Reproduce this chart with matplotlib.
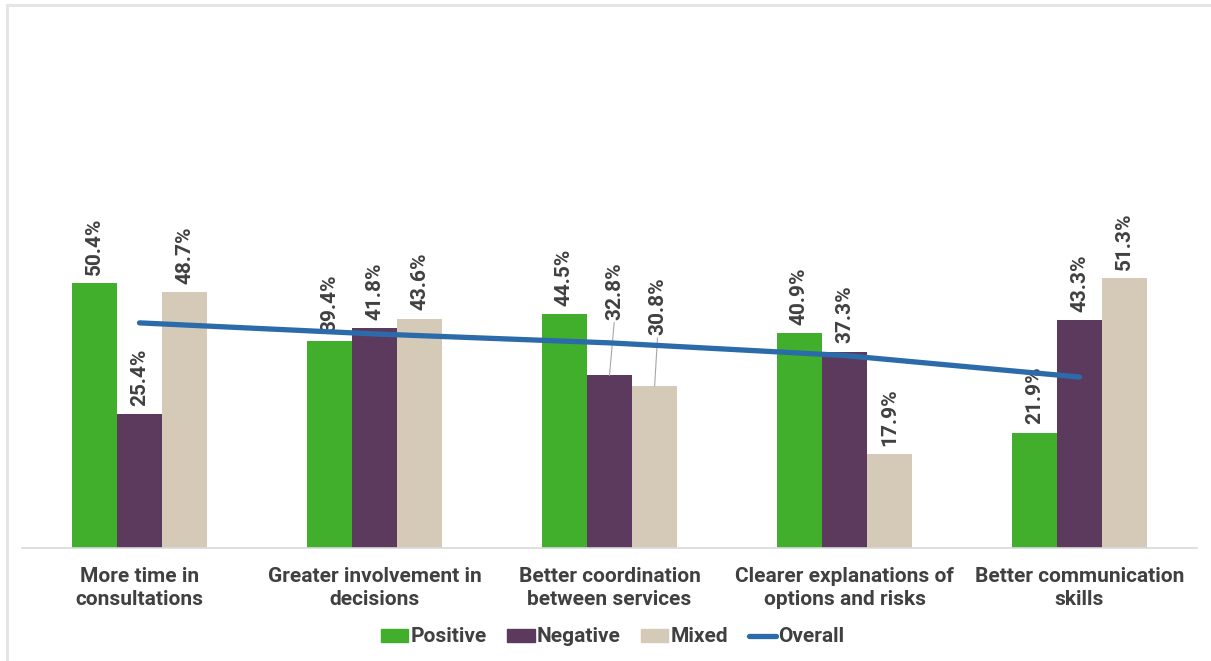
import matplotlib.pyplot as plt
import numpy as np
from matplotlib.patches import Patch, Rectangle
from matplotlib.lines import Line2D

plt.rcParams['font.family'] = ['Roboto', 'DejaVu Sans']

categories = ['More time in\nconsultations', 'Greater involvement in\ndecisions',
              'Better coordination\nbetween services', 'Clearer explanations of\noptions and risks',
              'Better communication\nskills']
positive = [50.4, 39.4, 44.5, 40.9, 21.9]
negative = [25.4, 41.8, 32.8, 37.3, 43.3]
mixed = [48.7, 43.6, 30.8, 17.9, 51.3]
overall = [42.8, 40.7, 39.0, 36.6, 32.5]

c_pos = '#42AF2C'
c_neg = '#5C3A5D'
c_mix = '#D5CAB8'
c_line = '#2C6BAA'
c_text = '#404040'

W, H = 1211, 661
fig = plt.figure(figsize=(W / 100, H / 100), dpi=100)
ax = fig.add_axes([22 / W, (H - 548) / H, (1197 - 22) / W, (548 - 22) / H])

# outer frame
fig.patches.append(Rectangle((7 / W, -0.01), 1.1, 1 - 5 / H + 0.01, transform=fig.transFigure,
                             fill=False, edgecolor='#E4E4E4', linewidth=2))

x = np.arange(len(categories))
bw = 0.192
series = [(positive, c_pos, -bw), (negative, c_neg, 0), (mixed, c_mix, bw)]
for vals, col, off in series:
    ax.bar(x + off, vals, width=bw, color=col, zorder=2)

# overall line sits on top of bars and labels
ax.plot(x, overall, color=c_line, linewidth=3.8, solid_capstyle='round', zorder=5)

# labels that would collide with the overall line get a leader line
label_kw = dict(rotation=90, ha='center', va='bottom', fontsize=15, color=c_text,
                fontweight='semibold', zorder=3)
shifted = {(1, 2): (0.021, 10.6), (2, 2): (0.013, 9.7)}
for si, (vals, col, off) in enumerate(series):
    for ci, v in enumerate(vals):
        key = (si, ci)
        if key in shifted:
            dx, dy = shifted[key]
            ax.annotate(f'{v:.1f}%', xy=(ci + off, v), xytext=(ci + off + dx, v + dy),
                        arrowprops=dict(arrowstyle='-', color='#A6A6A6', lw=0.8,
                                        shrinkA=0, shrinkB=0, relpos=(0.5, 0)),
                        **label_kw)
        else:
            ax.annotate(f'{v:.1f}%', xy=(ci + off, v), xytext=(0, 6), textcoords='offset points',
                        **label_kw)

ax.set_xlim(-0.5, len(categories) - 0.5)
ax.set_ylim(0, 100)
ax.set_yticks([])
ax.set_xticks(x)
ax.set_xticklabels(categories, fontsize=15, fontweight='bold', color=c_text, linespacing=1.25)
ax.tick_params(axis='x', length=0, pad=14)
for s in ['top', 'right', 'left']:
    ax.spines[s].set_visible(False)
ax.spines['bottom'].set_color('#D9D9D9')
ax.spines['bottom'].set_linewidth(1.2)

handles = [Patch(color=c_pos, label='Positive'), Patch(color=c_neg, label='Negative'),
           Patch(color=c_mix, label='Mixed'),
           Line2D([0], [0], color=c_line, lw=3.8, solid_capstyle='round', label='Overall')]
leg = fig.legend(handles=handles, loc='center', bbox_to_anchor=(0.506, 1 - 637 / H), ncol=4,
                 frameon=False, prop={'size': 15, 'weight': 'bold'}, handlelength=1.3,
                 handletextpad=0.1, columnspacing=1.0, handleheight=0.6)
for t in leg.get_texts():
    t.set_color(c_text)

fig.savefig('out.png', dpi=100)
